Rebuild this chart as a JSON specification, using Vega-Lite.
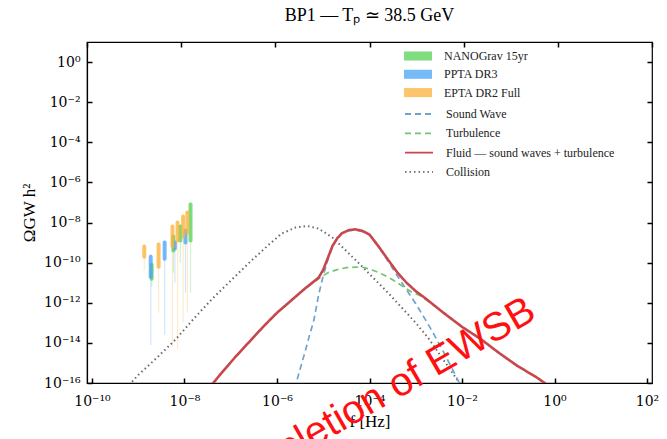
{
  "$schema": "https://vega.github.io/schema/vega-lite/v6.json",
  "width": 565,
  "height": 341,
  "autosize": {"type": "none"},
  "padding": {"left": 87, "top": 42, "right": 15, "bottom": 56},
  "background": "white",
  "title": {"text": "BP1 — Tₚ ≃ 38.5 GeV", "fontSize": 18, "font": "Liberation Serif", "fontWeight": "normal", "offset": 16, "anchor": "middle", "color": "#000"},
  "datasets": {
    "curves": [
      {"model": "Collision", "f": 6.3e-10, "omega": 7.9e-17},
      {"model": "Collision", "f": 1e-9, "omega": 2.5e-16},
      {"model": "Collision", "f": 2.5e-9, "omega": 1.78e-15},
      {"model": "Collision", "f": 6.3e-9, "omega": 1.41e-14},
      {"model": "Collision", "f": 1.58e-8, "omega": 1.58e-13},
      {"model": "Collision", "f": 3.98e-8, "omega": 1.58e-12},
      {"model": "Collision", "f": 1e-7, "omega": 1.26e-11},
      {"model": "Collision", "f": 2.51e-7, "omega": 1e-10},
      {"model": "Collision", "f": 6.31e-7, "omega": 7.08e-10},
      {"model": "Collision", "f": 1.26e-6, "omega": 2.82e-9},
      {"model": "Collision", "f": 2.51e-6, "omega": 5.62e-9},
      {"model": "Collision", "f": 4.47e-6, "omega": 6.76e-9},
      {"model": "Collision", "f": 7.94e-6, "omega": 5.01e-9},
      {"model": "Collision", "f": 1.58e-5, "omega": 1.78e-9},
      {"model": "Collision", "f": 3.16e-5, "omega": 3.8e-10},
      {"model": "Collision", "f": 6.31e-5, "omega": 7.94e-11},
      {"model": "Collision", "f": 1.26e-4, "omega": 1.58e-11},
      {"model": "Collision", "f": 2.51e-4, "omega": 3.16e-12},
      {"model": "Collision", "f": 5.01e-4, "omega": 5.62e-13},
      {"model": "Collision", "f": 1e-3, "omega": 1e-13},
      {"model": "Collision", "f": 2e-3, "omega": 1.41e-14},
      {"model": "Collision", "f": 3.98e-3, "omega": 1.41e-15},
      {"model": "Collision", "f": 7.94e-3, "omega": 1.41e-16},
      {"model": "Collision", "f": 1.26e-2, "omega": 3.16e-17},

      {"model": "Sound Wave", "f": 2.4e-6, "omega": 5.01e-17},
      {"model": "Sound Wave", "f": 3.16e-6, "omega": 5.01e-16},
      {"model": "Sound Wave", "f": 3.98e-6, "omega": 3.16e-15},
      {"model": "Sound Wave", "f": 5.01e-6, "omega": 2.24e-14},
      {"model": "Sound Wave", "f": 6.31e-6, "omega": 1.41e-13},
      {"model": "Sound Wave", "f": 7.94e-6, "omega": 2.51e-12},
      {"model": "Sound Wave", "f": 1e-5, "omega": 2.24e-11},
      {"model": "Sound Wave", "f": 1.26e-5, "omega": 1.41e-10},
      {"model": "Sound Wave", "f": 1.58e-5, "omega": 6.31e-10},
      {"model": "Sound Wave", "f": 2e-5, "omega": 1.58e-9},
      {"model": "Sound Wave", "f": 2.51e-5, "omega": 2.82e-9},
      {"model": "Sound Wave", "f": 3.55e-5, "omega": 3.98e-9},
      {"model": "Sound Wave", "f": 5.01e-5, "omega": 4.27e-9},
      {"model": "Sound Wave", "f": 7.08e-5, "omega": 3.55e-9},
      {"model": "Sound Wave", "f": 1e-4, "omega": 2.4e-9},
      {"model": "Sound Wave", "f": 1.58e-4, "omega": 6.03e-10},
      {"model": "Sound Wave", "f": 2.51e-4, "omega": 1.2e-10},
      {"model": "Sound Wave", "f": 3.98e-4, "omega": 2.24e-11},
      {"model": "Sound Wave", "f": 6.31e-4, "omega": 4.47e-12},
      {"model": "Sound Wave", "f": 1e-3, "omega": 8.91e-13},
      {"model": "Sound Wave", "f": 1.58e-3, "omega": 1.58e-13},
      {"model": "Sound Wave", "f": 2.51e-3, "omega": 2.51e-14},
      {"model": "Sound Wave", "f": 3.98e-3, "omega": 3.55e-15},
      {"model": "Sound Wave", "f": 6.31e-3, "omega": 4.47e-16},
      {"model": "Sound Wave", "f": 1e-2, "omega": 5.62e-17},

      {"model": "Turbulence", "f": 3.55e-8, "omega": 6.31e-17},
      {"model": "Turbulence", "f": 6.31e-8, "omega": 3.16e-16},
      {"model": "Turbulence", "f": 1.26e-7, "omega": 2e-15},
      {"model": "Turbulence", "f": 2.51e-7, "omega": 1.12e-14},
      {"model": "Turbulence", "f": 5.01e-7, "omega": 6.31e-14},
      {"model": "Turbulence", "f": 1e-6, "omega": 3.16e-13},
      {"model": "Turbulence", "f": 2e-6, "omega": 1.26e-12},
      {"model": "Turbulence", "f": 3.98e-6, "omega": 5.01e-12},
      {"model": "Turbulence", "f": 7.94e-6, "omega": 1.58e-11},
      {"model": "Turbulence", "f": 1.26e-5, "omega": 3.16e-11},
      {"model": "Turbulence", "f": 2e-5, "omega": 4.47e-11},
      {"model": "Turbulence", "f": 3.16e-5, "omega": 5.62e-11},
      {"model": "Turbulence", "f": 5.01e-5, "omega": 6.03e-11},
      {"model": "Turbulence", "f": 7.94e-5, "omega": 5.62e-11},
      {"model": "Turbulence", "f": 1.26e-4, "omega": 3.98e-11},
      {"model": "Turbulence", "f": 2e-4, "omega": 2.51e-11},
      {"model": "Turbulence", "f": 3.16e-4, "omega": 1.41e-11},
      {"model": "Turbulence", "f": 5.01e-4, "omega": 7.08e-12},
      {"model": "Turbulence", "f": 7.94e-4, "omega": 3.55e-12},
      {"model": "Turbulence", "f": 1.26e-3, "omega": 2.24e-12},
      {"model": "Turbulence", "f": 2e-3, "omega": 1.05e-12},
      {"model": "Turbulence", "f": 3.98e-3, "omega": 3.16e-13},
      {"model": "Turbulence", "f": 1e-2, "omega": 6.31e-14},
      {"model": "Turbulence", "f": 2.51e-2, "omega": 1.58e-14},
      {"model": "Turbulence", "f": 6.31e-2, "omega": 3.16e-15},
      {"model": "Turbulence", "f": 0.158, "omega": 7.08e-16},
      {"model": "Turbulence", "f": 0.398, "omega": 2e-16},
      {"model": "Turbulence", "f": 0.708, "omega": 7.94e-17},

      {"model": "Fluid — sound waves + turbulence", "f": 3.55e-8, "omega": 6.31e-17},
      {"model": "Fluid — sound waves + turbulence", "f": 6.31e-8, "omega": 3.16e-16},
      {"model": "Fluid — sound waves + turbulence", "f": 1.26e-7, "omega": 2e-15},
      {"model": "Fluid — sound waves + turbulence", "f": 2.51e-7, "omega": 1.12e-14},
      {"model": "Fluid — sound waves + turbulence", "f": 5.01e-7, "omega": 6.31e-14},
      {"model": "Fluid — sound waves + turbulence", "f": 1e-6, "omega": 3.16e-13},
      {"model": "Fluid — sound waves + turbulence", "f": 2e-6, "omega": 1.26e-12},
      {"model": "Fluid — sound waves + turbulence", "f": 3.98e-6, "omega": 5.01e-12},
      {"model": "Fluid — sound waves + turbulence", "f": 7.94e-6, "omega": 1.78e-11},
      {"model": "Fluid — sound waves + turbulence", "f": 1e-5, "omega": 4.47e-11},
      {"model": "Fluid — sound waves + turbulence", "f": 1.26e-5, "omega": 1.74e-10},
      {"model": "Fluid — sound waves + turbulence", "f": 1.58e-5, "omega": 6.76e-10},
      {"model": "Fluid — sound waves + turbulence", "f": 2e-5, "omega": 1.62e-9},
      {"model": "Fluid — sound waves + turbulence", "f": 2.51e-5, "omega": 2.88e-9},
      {"model": "Fluid — sound waves + turbulence", "f": 3.55e-5, "omega": 4.17e-9},
      {"model": "Fluid — sound waves + turbulence", "f": 5.01e-5, "omega": 4.57e-9},
      {"model": "Fluid — sound waves + turbulence", "f": 7.08e-5, "omega": 3.8e-9},
      {"model": "Fluid — sound waves + turbulence", "f": 1e-4, "omega": 2.51e-9},
      {"model": "Fluid — sound waves + turbulence", "f": 1.58e-4, "omega": 6.31e-10},
      {"model": "Fluid — sound waves + turbulence", "f": 2.51e-4, "omega": 1.41e-10},
      {"model": "Fluid — sound waves + turbulence", "f": 3.98e-4, "omega": 3.31e-11},
      {"model": "Fluid — sound waves + turbulence", "f": 6.31e-4, "omega": 1e-11},
      {"model": "Fluid — sound waves + turbulence", "f": 1e-3, "omega": 3.8e-12},
      {"model": "Fluid — sound waves + turbulence", "f": 1.58e-3, "omega": 1.74e-12},
      {"model": "Fluid — sound waves + turbulence", "f": 3.98e-3, "omega": 3.16e-13},
      {"model": "Fluid — sound waves + turbulence", "f": 1e-2, "omega": 6.31e-14},
      {"model": "Fluid — sound waves + turbulence", "f": 2.51e-2, "omega": 1.58e-14},
      {"model": "Fluid — sound waves + turbulence", "f": 6.31e-2, "omega": 3.16e-15},
      {"model": "Fluid — sound waves + turbulence", "f": 0.158, "omega": 7.08e-16},
      {"model": "Fluid — sound waves + turbulence", "f": 0.398, "omega": 2e-16},
      {"model": "Fluid — sound waves + turbulence", "f": 0.708, "omega": 7.94e-17}
    ],
    "pta": [
      {"pta": "NANOGrav 15yr", "f": 1.95e-9, "omega": 1e-10, "lo": 1.26e-11, "tail": 6.31e-12},
      {"pta": "NANOGrav 15yr", "f": 5.75e-9, "omega": 2.51e-9, "lo": 3.16e-10, "tail": 3.16e-11},
      {"pta": "NANOGrav 15yr", "f": 8.13e-9, "omega": 7.94e-9, "lo": 1e-9, "tail": 1e-10},
      {"pta": "NANOGrav 15yr", "f": 1.35e-8, "omega": 1e-7, "lo": 1e-9, "tail": 3.16e-12},
      {"pta": "PPTA DR3", "f": 1.86e-9, "omega": 2.51e-10, "lo": 1.58e-11, "tail": 7.94e-15},
      {"pta": "PPTA DR3", "f": 3.72e-9, "omega": 1.26e-9, "lo": 1.26e-10, "tail": 2.51e-14},
      {"pta": "PPTA DR3", "f": 6.2e-9, "omega": 1.26e-9, "lo": 3.98e-10, "tail": 1e-11},
      {"pta": "PPTA DR3", "f": 1.05e-8, "omega": 5.01e-9, "lo": 7.94e-10, "tail": 3.16e-12},
      {"pta": "EPTA DR2 Full", "f": 1.35e-9, "omega": 7.94e-10, "lo": 1.58e-10, "tail": 3.98e-11},
      {"pta": "EPTA DR2 Full", "f": 2.75e-9, "omega": 1e-9, "lo": 5.01e-11, "tail": 3.16e-13},
      {"pta": "EPTA DR2 Full", "f": 5.5e-9, "omega": 7.94e-9, "lo": 5.01e-10, "tail": 6.31e-15},
      {"pta": "EPTA DR2 Full", "f": 7.08e-9, "omega": 1.26e-8, "lo": 1e-9, "tail": 5.01e-15},
      {"pta": "EPTA DR2 Full", "f": 9.33e-9, "omega": 2.51e-8, "lo": 1.58e-9, "tail": 1e-13},
      {"pta": "EPTA DR2 Full", "f": 1.15e-8, "omega": 3.98e-8, "lo": 2.51e-9, "tail": 3.16e-13}
    ],
    "note": [
      {"label": "Completion of EWSB", "f": 0.44, "omega": 1.74e-13}
    ]
  },
  "layer": [
    {
      "layer": [
        {
          "data": {"name": "pta"},
          "mark": {"type": "bar", "size": 1.2, "opacity": 0.25},
          "encoding": {
            "x": {"field": "f", "type": "quantitative", "scale": {"type": "log", "domain": [1e-10, 100]},
              "axis": {"values": [1e-10, 1e-8, 1e-6, 1e-4, 1e-2, 1, 100], "title": "f [Hz]", "labelPadding": 16, "labelExpr": "['10⁻¹⁰','10⁻⁹','10⁻⁸','10⁻⁷','10⁻⁶','10⁻⁵','10⁻⁴','10⁻³','10⁻²','10⁻¹','10⁰','10¹','10²'][round(log(datum.value)/LN10)+10]"}},
            "y": {"field": "tail", "type": "quantitative", "scale": {"type": "log", "domain": [1e-16, 10]}, "title": "ΩGW h²",
              "axis": {"values": [1e-16, 1e-14, 1e-12, 1e-10, 1e-8, 1e-6, 1e-4, 1e-2, 1], "title": "ΩGW h²", "labelExpr": "['10⁻¹⁶','10⁻¹⁵','10⁻¹⁴','10⁻¹³','10⁻¹²','10⁻¹¹','10⁻¹⁰','10⁻⁹','10⁻⁸','10⁻⁷','10⁻⁶','10⁻⁵','10⁻⁴','10⁻³','10⁻²','10⁻¹','10⁰','10¹'][round(log(datum.value)/LN10)+16]"}},
            "y2": {"field": "omega"},
            "color": {"field": "pta", "type": "nominal",
              "scale": {"domain": ["NANOGrav 15yr", "PPTA DR3", "EPTA DR2 Full"], "range": ["#55d155", "#4aa3f5", "#fbb13a"]},
              "legend": {"orient": "none", "legendX": 324, "legendY": 7, "title": null, "symbolType": "M-2,-0.65H2V0.65H-2Z", "symbolSize": 196, "symbolOpacity": 1, "symbolStrokeWidth": 0, "labelFont": "Liberation Serif", "labelFontSize": 12, "labelColor": "#222", "labelOffset": 19, "labelLimit": 300, "rowPadding": 5.3, "padding": 0}}
          }
        },
        {
          "data": {"name": "pta"},
          "mark": {"type": "bar", "size": 4, "opacity": 0.75, "cornerRadius": 2},
          "encoding": {
            "x": {"field": "f", "type": "quantitative", "scale": {"type": "log", "domain": [1e-10, 100]}},
            "y": {"field": "lo", "type": "quantitative", "scale": {"type": "log", "domain": [1e-16, 10]}, "title": "ΩGW h²"},
            "y2": {"field": "omega"},
            "color": {"field": "pta", "type": "nominal"}
          }
        },
        {
          "data": {"name": "curves"},
          "transform": [{"filter": "datum.model === 'Collision'"}],
          "mark": {"type": "line", "clip": true},
          "encoding": {
            "x": {"field": "f", "type": "quantitative", "scale": {"type": "log", "domain": [1e-10, 100]}},
            "y": {"field": "omega", "type": "quantitative", "scale": {"type": "log", "domain": [1e-16, 10]}, "title": "ΩGW h²"},
            "stroke": {"field": "model", "type": "nominal",
              "scale": {"domain": ["Sound Wave", "Turbulence", "Fluid — sound waves + turbulence", "Collision"], "range": ["#6fa3cf", "#74c474", "#c8474d", "#6b6b6b"]},
              "legend": {"orient": "none", "legendX": 324, "legendY": 64, "title": null, "symbolType": "M-2,0H2", "symbolSize": 196, "symbolStrokeWidth": 1.8, "labelFont": "Liberation Serif", "labelFontSize": 12, "labelColor": "#222", "labelOffset": 19, "labelLimit": 300, "rowPadding": 5.3, "padding": 0}},
            "strokeDash": {"field": "model", "type": "nominal",
              "scale": {"domain": ["Sound Wave", "Turbulence", "Fluid — sound waves + turbulence", "Collision"], "range": [[6, 4], [6, 4], [1, 0], [1.5, 3]]}}
          }
        },
        {
          "data": {"name": "curves"},
          "transform": [{"filter": "datum.model === 'Sound Wave'"}],
          "mark": {"type": "line", "clip": true, "strokeWidth": 1.7},
          "encoding": {
            "x": {"field": "f", "type": "quantitative", "scale": {"type": "log", "domain": [1e-10, 100]}},
            "y": {"field": "omega", "type": "quantitative", "scale": {"type": "log", "domain": [1e-16, 10]}, "title": "ΩGW h²"},
            "stroke": {"field": "model", "type": "nominal"},
            "strokeDash": {"field": "model", "type": "nominal"}
          }
        },
        {
          "data": {"name": "curves"},
          "transform": [{"filter": "datum.model === 'Turbulence'"}],
          "mark": {"type": "line", "clip": true, "strokeWidth": 1.7},
          "encoding": {
            "x": {"field": "f", "type": "quantitative", "scale": {"type": "log", "domain": [1e-10, 100]}},
            "y": {"field": "omega", "type": "quantitative", "scale": {"type": "log", "domain": [1e-16, 10]}, "title": "ΩGW h²"},
            "stroke": {"field": "model", "type": "nominal"},
            "strokeDash": {"field": "model", "type": "nominal"}
          }
        },
        {
          "data": {"name": "curves"},
          "transform": [{"filter": "datum.model === 'Fluid — sound waves + turbulence'"}],
          "mark": {"type": "line", "clip": true, "strokeWidth": 2.6},
          "encoding": {
            "x": {"field": "f", "type": "quantitative", "scale": {"type": "log", "domain": [1e-10, 100]}},
            "y": {"field": "omega", "type": "quantitative", "scale": {"type": "log", "domain": [1e-16, 10]}, "title": "ΩGW h²"},
            "stroke": {"field": "model", "type": "nominal"},
            "strokeDash": {"field": "model", "type": "nominal"}
          }
        },
        {
          "data": {"name": "note"},
          "mark": {"type": "text", "align": "right", "baseline": "alphabetic", "angle": -30, "font": "Liberation Sans", "fontSize": 40, "color": "#ff1010"},
          "encoding": {
            "x": {"field": "f", "type": "quantitative", "scale": {"type": "log", "domain": [1e-10, 100]}},
            "y": {"field": "omega", "type": "quantitative", "scale": {"type": "log", "domain": [1e-16, 10]}, "title": "ΩGW h²"},
            "text": {"field": "label"}
          }
        }
      ]
    },
    {
      "data": {"name": "note"},
      "mark": {"type": "point", "opacity": 0},
      "encoding": {
        "x": {"field": "f", "type": "quantitative", "scale": {"type": "log", "domain": [1e-10, 100]},
          "axis": {"orient": "top", "values": [1e-10, 1e-8, 1e-6, 1e-4, 1e-2, 1, 100], "labels": false, "domain": false, "title": null}},
        "y": {"field": "omega", "type": "quantitative", "scale": {"type": "log", "domain": [1e-16, 10]},
          "axis": {"orient": "right", "values": [1e-16, 1e-14, 1e-12, 1e-10, 1e-8, 1e-6, 1e-4, 1e-2, 1], "labels": false, "domain": false, "title": null}}
      }
    }
  ],
  "resolve": {"scale": {"x": "independent", "y": "independent"}},
  "config": {
    "view": {"stroke": "#000", "strokeWidth": 1.2},
    "font": "Liberation Serif",
    "axis": {"domainColor": "#000", "domainWidth": 1.2, "tickColor": "#000", "tickWidth": 1.5, "tickSize": -5, "labelFont": "DejaVu Serif", "labelFontSize": 14, "labelColor": "#000", "titleFont": "Liberation Serif", "titleFontSize": 17, "titleFontWeight": "normal", "titleColor": "#000", "grid": false, "labelPadding": 12},
    "axisY": {"titlePadding": 5},
    "axisX": {"titlePadding": 5}
  }
}
